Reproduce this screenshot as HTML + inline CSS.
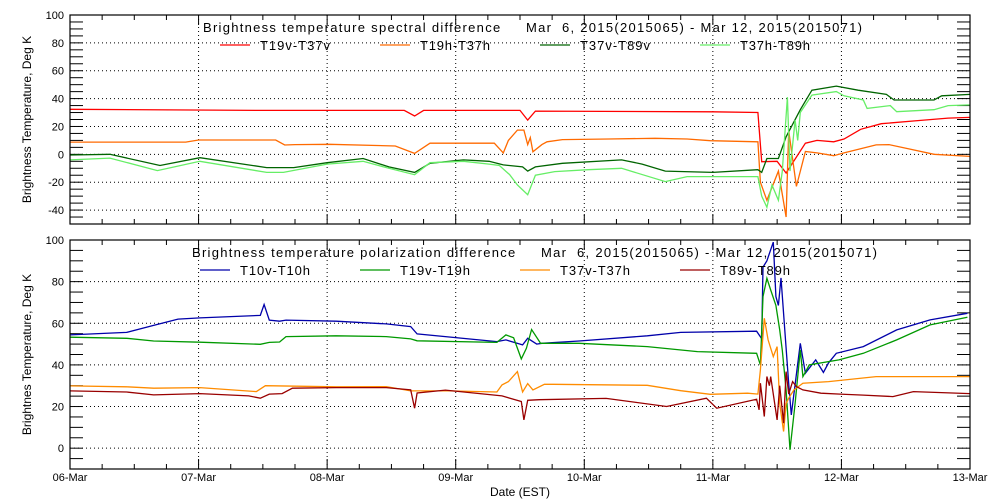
<!DOCTYPE html>
<html><head><meta charset="utf-8"><style>
body{margin:0;background:#fff;}
svg{display:block;font-family:"Liberation Sans",sans-serif;}
text{white-space:pre;}
</style></head><body>
<svg id="chart" width="1000" height="500"></svg>
<script>
// ---- top panel data (t = days since 06-Mar) ----
const tRed=[0,1.5,2.6,2.68,2.75,3.5,3.56,3.62,5.0,5.35,5.38,5.5,5.57,5.72,5.81,5.94,6.02,6.15,6.31,6.57,6.83,7];
const vRed=[32.3,31.5,31.5,27.5,31.5,31.5,24.6,31,30.5,30,-5.3,-5,-13.4,8,10,9,11,18,22,24,26,26.5];
const tOrg=[0,0.9,1.0,1.6,1.67,1.75,2.02,2.53,2.68,2.8,3.3,3.37,3.41,3.48,3.53,3.56,3.58,3.6,3.67,3.71,3.83,4.19,4.55,4.8,4.98,5.35,5.37,5.42,5.51,5.57,5.59,5.65,5.72,5.81,5.94,6.02,6.27,6.37,6.52,6.72,7];
const vOrg=[8.8,8.8,10.3,10.3,6.7,7,7.2,6,0.7,8,8,1,10,17.4,17.4,7,12,1.8,7,9,10.6,11,11.5,11,9.8,9,-20,-33,-12,-45,17,-23,2,1,-1,1,6.8,7,4,0,-1.5];
const tDg=[0,0.31,0.7,1.01,1.53,1.74,2.0,2.28,2.48,2.68,2.8,3.06,3.26,3.37,3.52,3.56,3.62,3.83,4.29,4.45,4.63,5.0,5.35,5.38,5.42,5.51,5.57,5.68,5.77,5.96,6.13,6.35,6.41,6.72,6.78,7];
const vDg=[-0.5,0,-8,-2.4,-9.5,-9.5,-6,-3,-9,-13,-6.4,-4,-5,-7.6,-9,-12,-9,-6.4,-4,-7,-12,-13,-11,-13,-3,-3,12.6,32,46,49,46,43,39,39,42,43];
const tLg=[0,0.31,0.68,1.01,1.53,1.66,2.0,2.28,2.48,2.68,2.8,3.06,3.26,3.34,3.42,3.48,3.56,3.62,3.77,4.03,4.29,4.63,4.8,4.98,5.35,5.38,5.42,5.46,5.51,5.54,5.58,5.6,5.64,5.66,5.68,5.77,5.96,6.02,6.17,6.2,6.38,6.43,6.72,6.83,7];
const vLg=[-4,-2.7,-11.7,-5,-13,-13,-7,-5,-10,-14.6,-6,-5,-7,-8,-14.6,-22,-29,-15,-12.4,-11,-10,-19.6,-16,-16,-16,-30,-38,-22,-33,-12,41,-12,24.6,10,30,42.5,45,42,39,33,35,30.6,32,35,35.5];
// ---- bottom panel data ----
const tBlu=[0,0.44,0.65,0.84,1.01,1.48,1.51,1.55,1.63,1.68,2.07,2.46,2.65,2.7,3.32,3.39,3.52,3.56,3.63,3.67,3.96,4.49,4.75,5.34,5.38,5.39,5.42,5.47,5.49,5.51,5.53,5.56,5.59,5.61,5.63,5.68,5.72,5.8,5.86,5.9,5.96,6.17,6.43,6.69,6.98];
const vBlu=[54.4,55.6,59,62,62.6,63.8,69,61.5,61,61.5,61,59.7,58.4,54.9,51.2,52,49.6,52.8,50,50.4,51.5,54,55.6,56.2,52.6,87,90,99,72.8,68.6,81.8,56,31,16,26,50.4,36,42.4,36.4,41,45.6,48.8,56.8,61.6,64.8];
const tGrn=[0,0.44,0.65,1.01,1.48,1.55,1.63,1.68,2.07,2.46,2.65,2.7,3.32,3.39,3.45,3.51,3.55,3.59,3.66,3.96,4.49,4.88,5.34,5.37,5.39,5.42,5.45,5.49,5.52,5.54,5.57,5.6,5.64,5.68,5.7,5.75,5.98,6.17,6.43,6.69,6.98];
const vGrn=[53.3,52.8,51.5,50.9,49.9,50.8,51,53.6,54,53.6,52.5,51.6,50.8,54.4,53,42.9,48,57,50.4,50.4,48.8,46.4,45.6,40,72.8,81.6,76,68.6,56.8,47,28,-0.8,21.4,47.2,34.4,40,42.4,45.6,52,59.2,62.9];
const tOra=[0,0.44,0.65,1.01,1.45,1.52,2.07,2.46,2.65,2.95,3.32,3.36,3.41,3.48,3.52,3.56,3.6,3.69,3.76,4.49,4.75,4.98,5.27,5.35,5.37,5.4,5.43,5.47,5.5,5.52,5.55,5.57,5.59,5.63,5.7,5.9,6.27,7];
const vOra=[29.9,29.5,28.8,29.1,27.2,30,29.5,29.6,27.5,27.5,27,30.4,32,36.8,27,31,28,30.7,30.7,30.2,27.6,25.9,26.4,26,37.6,62.4,52,44,48.8,21.4,8,21.4,24,28,31.2,32,34.4,34.4];
const tDr=[0,0.44,0.65,1.01,1.39,1.48,1.55,1.65,1.73,2.07,2.46,2.65,2.68,2.7,2.92,3.36,3.51,3.53,3.56,3.65,4.17,4.64,4.95,5.03,5.34,5.36,5.37,5.4,5.42,5.44,5.45,5.5,5.52,5.55,5.57,5.59,5.62,5.65,5.7,5.84,5.99,6.17,6.4,6.56,7];
const vDr=[27.5,27,25.6,26.2,25.1,24,26,26.2,28.8,29.1,29.1,28,19.2,26.5,27.9,25.1,22.4,13.6,23,23.3,23.9,20,24,19.2,23.5,18.4,31.2,15.2,34.4,30,34.4,13.6,30,12,36.8,26,32,29.6,28,26.4,26,25.5,24.8,27.2,26.2];

const topSeries=[[tRed,vRed,'#ff0000'],[tOrg,vOrg,'#ff6a00'],[tDg,vDg,'#006400'],[tLg,vLg,'#66ee66']];
const botSeries=[[tBlu,vBlu,'#0000aa'],[tGrn,vGrn,'#009900'],[tOra,vOra,'#ff8c00'],[tDr,vDr,'#990000']];
const dayLabels=['06-Mar','07-Mar','08-Mar','09-Mar','10-Mar','11-Mar','12-Mar','13-Mar'];
const topTicks=[100,80,60,40,20,0,-20,-40];
const botTicks=[100,80,60,40,20,0];

const NS='http://www.w3.org/2000/svg';
const svg=document.getElementById('chart');
function mk(tag,attrs,parent){const e=document.createElementNS(NS,tag);for(const k in attrs)e.setAttribute(k,attrs[k]);(parent||svg).appendChild(e);return e;}
const X0=70,X1=970;
const xs=t=>X0+t*(X1-X0)/7;

function panel(name,top,bot,vmax,vmin,ticks,series,title,legend){
  const ys=v=>top+(vmax-v)*(bot-top)/(vmax-vmin);
  const g=mk('g',{});
  
  
  for(let d=1;d<7;d++){const l=mk('line',{x1:xs(d),x2:xs(d),y1:top,y2:bot,stroke:'#000','stroke-width':1,'stroke-dasharray':'1,3'},g);
    }
  ticks.forEach(v=>{if(v===vmax)return;const l=mk('line',{x1:X0,x2:X1,y1:ys(v),y2:ys(v),stroke:'#000','stroke-width':1,'stroke-dasharray':'1,3'},g);
    });
  for(let v=vmin;v<=vmax;v+=5){const y=ys(v);
    mk('line',{x1:X0,x2:X0+13,y1:y,y2:y,stroke:'#000'},g);mk('line',{x1:X1-13,x2:X1,y1:y,y2:y,stroke:'#000'},g);}
  for(let i=0;i<=28;i++){const x=xs(i/4);const len=i%4===0?10:5;
    mk('line',{x1:x,x2:x,y1:bot,y2:bot-len,stroke:'#000'},g);mk('line',{x1:x,x2:x,y1:top,y2:top+len,stroke:'#000'},g);}
  ticks.forEach(v=>{const t=mk('text',{x:64,y:ys(v)+4,'text-anchor':'end','font-size':11},g);t.textContent=v;
    });
  series.forEach(([ts,vs,c],k)=>{
    const pts=ts.map((t,i)=>xs(t).toFixed(1)+','+ys(Math.max(vmin,Math.min(vmax,vs[i]))).toFixed(1)).join(' ');
    const p=mk('polyline',{points:pts,fill:'none',stroke:c,'stroke-width':1.3},g);
    
    
  });
  mk('rect',{x:X0,y:top,width:X1-X0,height:bot-top,fill:'none',stroke:'#000','stroke-width':1.2},g);
  const tt=mk('text',{x:title[1],y:top+17,'font-size':13,textLength:title[3],lengthAdjust:'spacing'},g);tt.textContent=title[0];
  
  legend.forEach((lab,k)=>{const lx=title[2]+k*160,ly=top+35;
    const e=mk('g',{},g);
    
    
    mk('line',{x1:lx,x2:lx+30,y1:ly-5,y2:ly-5,stroke:series[k][2],'stroke-width':1.3},e);
    const t=mk('text',{x:lx+40,y:ly,'font-size':13,textLength:70,lengthAdjust:'spacing'},e);t.textContent=lab;});
  const yt=mk('text',{x:0,y:0,'font-size':12,'text-anchor':'middle',transform:`translate(31,${(top+bot)/2}) rotate(-90)`},g);
  yt.textContent=name==='top-panel'?'Brightness Temperature, Deg K':'Brightnes Temperature, Deg K';
  
}
panel('top-panel',15,224,100,-50,topTicks,topSeries,['Brightness temperature spectral difference     Mar  6, 2015(2015065) - Mar 12, 2015(2015071)',203,220,659],['T19v-T37v','T19h-T37h','T37v-T89v','T37h-T89h']);
panel('bottom-panel',240,469,100,-10,botTicks,botSeries,['Brightness temperature polarization difference     Mar  6, 2015(2015065) - Mar 12, 2015(2015071)',192,200,685],['T10v-T10h','T19v-T19h','T37v-T37h','T89v-T89h']);
dayLabels.forEach((d,i)=>{const t=mk('text',{x:xs(i),y:481,'text-anchor':'middle','font-size':11});t.textContent=d;
  });
const xt=mk('text',{x:520,y:496,'text-anchor':'middle','font-size':12});xt.textContent='Date (EST)';

</script>
</body></html>
